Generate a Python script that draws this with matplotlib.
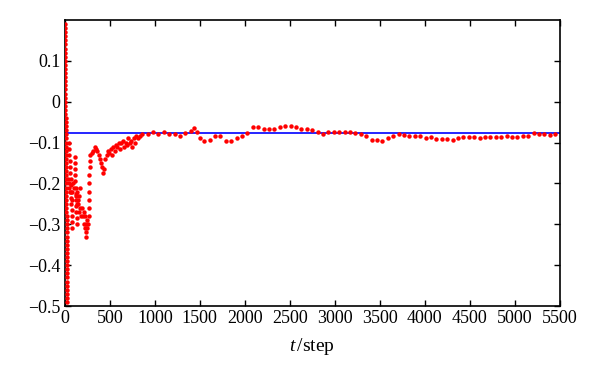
import matplotlib
matplotlib.use("Agg")
import matplotlib.pyplot as plt

plt.rcParams['font.family'] = ['Liberation Serif', 'DejaVu Serif']
plt.rcParams['mathtext.fontset'] = 'custom'
plt.rcParams['mathtext.it'] = 'Liberation Serif:italic'
plt.rcParams['mathtext.rm'] = 'Liberation Serif'

# reference level
v_ref = -0.077

# first steps: the value sweeps the whole range
t_col = [2, 2, 2, 3, 3, 3, 3, 4, 4, 4, 4, 4, 5, 5, 5, 5, 5, 6, 6, 6,
         7, 7, 7, 8, 8, 8, 9, 9, 9, 10, 10, 11, 11, 12, 12, 13, 13, 14, 14, 15,
         15, 16, 16, 17, 17, 18, 18, 19, 19, 20, 20, 21, 21, 22, 22, 23, 23, 24, 24, 25,
         25, 26, 26, 27, 27, 28, 28, 29, 29]
v_col = [0.19, 0.18, 0.17, 0.16, 0.15, 0.14, 0.13, 0.12, 0.11, 0.10, 0.09, 0.08, 0.07, 0.06, 0.05, 0.04, 0.03, 0.02, 0.01, 0.0,
         -0.01, -0.02, -0.03, -0.04, -0.05, -0.06, -0.07, -0.08, -0.09, -0.10, -0.11, -0.12, -0.13, -0.14, -0.15, -0.16, -0.17, -0.18, -0.19, -0.20,
         -0.21, -0.22, -0.23, -0.24, -0.25, -0.26, -0.27, -0.28, -0.29, -0.30, -0.31, -0.32, -0.33, -0.34, -0.35, -0.36, -0.37, -0.38, -0.39, -0.40,
         -0.41, -0.42, -0.43, -0.44, -0.45, -0.46, -0.47, -0.48, -0.49]

# transient oscillations, 30 < t < 300
t_osc = [45, 48, 52, 55, 58, 62, 65, 68, 70, 72, 74, 76, 78, 80, 82,
         110, 112, 114, 116, 118, 120, 122, 124, 126, 128, 130, 132,
         35, 42, 50, 60, 75, 85, 95, 105, 120, 135, 145, 150, 160, 170, 180, 190,
         200, 210, 220, 230, 240, 250, 245, 235, 225, 215, 165, 155, 140,
         262, 264, 266, 268, 270, 272, 274, 276, 278]
v_osc = [-0.10, -0.115, -0.13, -0.145, -0.16, -0.175, -0.19, -0.205, -0.22, -0.235, -0.25, -0.265, -0.28, -0.295, -0.31,
         -0.135, -0.15, -0.165, -0.18, -0.195, -0.21, -0.225, -0.24, -0.255, -0.27, -0.285, -0.30,
         -0.19, -0.21, -0.20, -0.22, -0.24, -0.22, -0.20, -0.21, -0.23, -0.22, -0.24, -0.25, -0.27, -0.26, -0.28, -0.26,
         -0.28, -0.30, -0.31, -0.32, -0.33, -0.31, -0.29, -0.30, -0.28, -0.27, -0.21, -0.23, -0.25,
         -0.30, -0.28, -0.26, -0.24, -0.22, -0.20, -0.18, -0.16, -0.145]

# settling towards the reference level
t_set = [285, 300, 315, 330, 345, 360, 375, 390, 400, 410, 420, 435, 450, 465, 480, 495, 510, 525,
         540, 555, 570, 585, 600, 615, 630, 645, 660, 675, 690, 705, 720, 735, 750, 765, 780, 795,
         810, 830]
v_set = [-0.13, -0.125, -0.12, -0.11, -0.115, -0.12, -0.13, -0.14, -0.15, -0.16, -0.175, -0.165, -0.14, -0.13, -0.12, -0.125, -0.115, -0.13,
         -0.11, -0.12, -0.105, -0.11, -0.10, -0.115, -0.10, -0.095, -0.11, -0.10, -0.105, -0.09, -0.10, -0.095, -0.11, -0.09, -0.10, -0.085,
         -0.09, -0.085]

# long run around the reference level
t_late = [860, 920, 980, 1040, 1100, 1160, 1220, 1280, 1340, 1400, 1440, 1470, 1500, 1550, 1610,
          1670, 1730, 1790, 1850, 1910, 1970, 2030, 2090, 2150, 2210, 2270, 2330, 2390, 2450, 2510,
          2570, 2630, 2690, 2750, 2810, 2870, 2930, 2990, 3050, 3110, 3170, 3230, 3290, 3350, 3410,
          3470, 3530, 3590, 3650, 3710, 3770, 3830, 3890, 3950, 4010, 4070, 4130, 4190, 4250, 4310,
          4370, 4430, 4490, 4550, 4610, 4670, 4730, 4790, 4850, 4910, 4970, 5030, 5090, 5150, 5210,
          5270, 5330, 5390, 5450]
v_late = [-0.08, -0.078, -0.075, -0.08, -0.075, -0.08, -0.08, -0.083, -0.076, -0.072, -0.065, -0.075, -0.09, -0.097, -0.093,
          -0.085, -0.084, -0.095, -0.095, -0.09, -0.083, -0.077, -0.062, -0.062, -0.067, -0.066, -0.066, -0.062, -0.06, -0.059,
          -0.062, -0.066, -0.066, -0.07, -0.075, -0.08, -0.073, -0.073, -0.075, -0.075, -0.075, -0.076, -0.078, -0.085, -0.094,
          -0.094, -0.095, -0.09, -0.083, -0.08, -0.081, -0.083, -0.083, -0.085, -0.088, -0.087, -0.092, -0.092, -0.092, -0.093,
          -0.09, -0.086, -0.087, -0.087, -0.088, -0.086, -0.086, -0.087, -0.086, -0.085, -0.086, -0.086, -0.085, -0.085, -0.076,
          -0.079, -0.08, -0.081, -0.079]

xticks = [0, 500, 1000, 1500, 2000, 2500, 3000, 3500, 4000, 4500, 5000, 5500]
yticks = [-0.5, -0.4, -0.3, -0.2, -0.1, 0, 0.1]
ytick_labels = ['\u22120.5', '\u22120.4', '\u22120.3', '\u22120.2', '\u22120.1', '0', '0.1']

fig = plt.figure(figsize=(6, 3.84), dpi=100)
ax = fig.add_axes([0.108, 0.203, 0.825, 0.745])

ax.axhline(v_ref, color='#0000ff', lw=1.2, zorder=2)
for t, v in [(t_col, v_col), (t_osc, v_osc), (t_set, v_set), (t_late, v_late)]:
    ax.plot(t, v, 'o', color='#ff0000', ms=3.2, mew=0, zorder=3)

ax.set_xlim(0, 5500)
ax.set_ylim(-0.5, 0.2)
ax.set_xticks(xticks)
ax.set_yticks(yticks)
ax.set_yticklabels(ytick_labels)
ax.tick_params(direction='in', top=True, right=True, length=4, width=1, labelsize=13, pad=3)
for s in ax.spines.values():
    s.set_linewidth(1.2)

ax.set_xlabel('$t\\,$/step', fontsize=14, labelpad=6)

fig.savefig('out.png', dpi=100)
